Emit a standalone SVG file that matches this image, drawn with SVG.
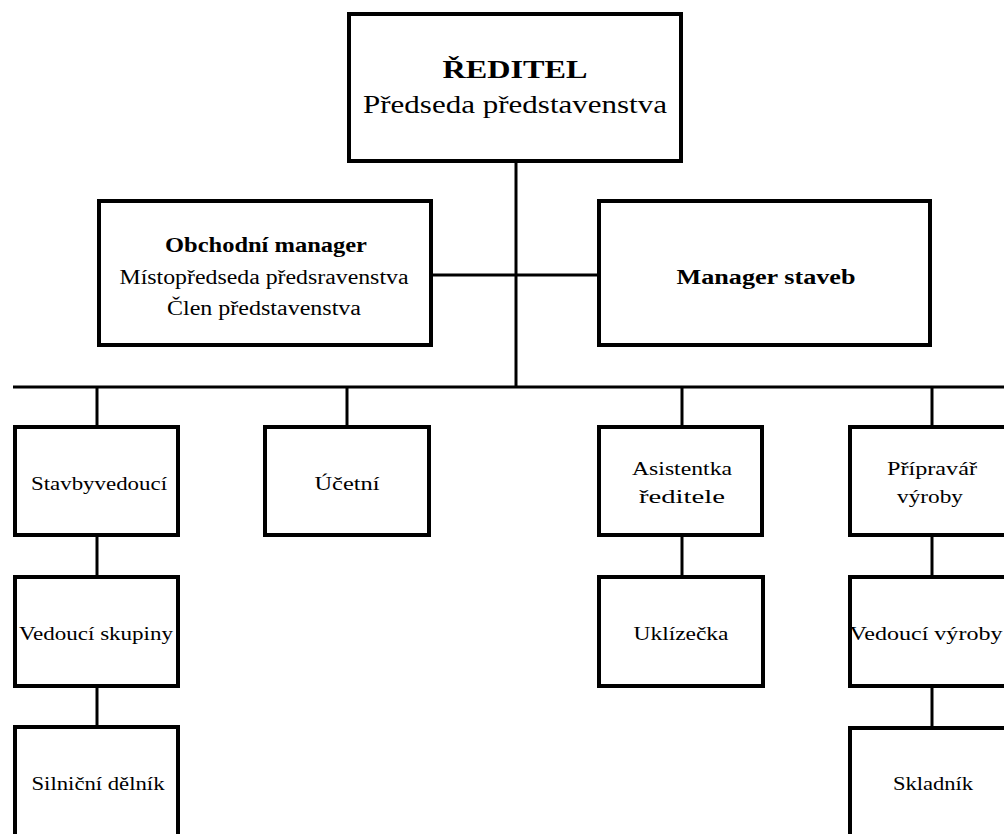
<svg xmlns="http://www.w3.org/2000/svg" width="1004" height="834" viewBox="0 0 1004 834">
<style>
.box{fill:#fff;stroke:#000;stroke-width:4}
.ln{stroke:#000;stroke-width:3;fill:none}
text{font-family:"Liberation Serif","Times New Roman",serif;fill:#000;text-anchor:middle}
.b{font-weight:bold}
.t1{font-size:26px}
.t2{font-size:20px}
.t3{font-size:19px}
</style>
<rect width="1004" height="834" fill="#fff"/>
<g id="connectors">
<line class="ln" x1="516" y1="161" x2="516" y2="387"/>
<line class="ln" x1="431" y1="275" x2="599" y2="275"/>
<line class="ln" x1="13" y1="387" x2="1004" y2="387"/>
<line class="ln" x1="97" y1="387" x2="97" y2="427"/>
<line class="ln" x1="347" y1="387" x2="347" y2="427"/>
<line class="ln" x1="682" y1="387" x2="682" y2="427"/>
<line class="ln" x1="932" y1="387" x2="932" y2="427"/>
<line class="ln" x1="97" y1="535" x2="97" y2="577"/>
<line class="ln" x1="97" y1="686" x2="97" y2="727"/>
<line class="ln" x1="682" y1="535" x2="682" y2="577"/>
<line class="ln" x1="932" y1="535" x2="932" y2="577"/>
<line class="ln" x1="932" y1="686" x2="932" y2="728"/>
</g>
<g id="reditel">
<rect class="box" x="349" y="14" width="332" height="147"/>
<text class="t1 b" x="515" y="78" textLength="145" lengthAdjust="spacingAndGlyphs">ŘEDITEL</text>
<text class="t1" x="515" y="113" textLength="304" lengthAdjust="spacingAndGlyphs">Předseda představenstva</text>
</g>
<g id="obchodni">
<rect class="box" x="99" y="201" width="332" height="144"/>
<text class="t2 b" x="266" y="252" textLength="202" lengthAdjust="spacingAndGlyphs">Obchodní manager</text>
<text class="t2" x="264" y="284" textLength="289" lengthAdjust="spacingAndGlyphs">Místopředseda předsravenstva</text>
<text class="t2" x="264" y="315" textLength="194" lengthAdjust="spacingAndGlyphs">Člen představenstva</text>
</g>
<g id="manager-staveb">
<rect class="box" x="599" y="201" width="331" height="144"/>
<text class="t2 b" x="766" y="284" textLength="179" lengthAdjust="spacingAndGlyphs">Manager staveb</text>
</g>
<g id="stavbyvedouci">
<rect class="box" x="15" y="427" width="163" height="108"/>
<text class="t3" x="99" y="490" textLength="136" lengthAdjust="spacingAndGlyphs">Stavbyvedoucí</text>
</g>
<g id="ucetni">
<rect class="box" x="265" y="427" width="164" height="108"/>
<text class="t3" x="347" y="490" textLength="65" lengthAdjust="spacingAndGlyphs">Účetní</text>
</g>
<g id="asistentka">
<rect class="box" x="599" y="427" width="163" height="108"/>
<text class="t3" x="682" y="475" textLength="100" lengthAdjust="spacingAndGlyphs">Asistentka</text>
<text class="t3" x="682" y="503" textLength="86" lengthAdjust="spacingAndGlyphs">ředitele</text>
</g>
<g id="pripravar">
<rect class="box" x="850" y="427" width="163" height="108"/>
<text class="t3" x="932" y="475" textLength="90" lengthAdjust="spacingAndGlyphs">Přípravář</text>
<text class="t3" x="930" y="503" textLength="66" lengthAdjust="spacingAndGlyphs">výroby</text>
</g>
<g id="vedouci-skupiny">
<rect class="box" x="15" y="577" width="163" height="109"/>
<text class="t3" x="96" y="640" textLength="154" lengthAdjust="spacingAndGlyphs">Vedoucí skupiny</text>
</g>
<g id="uklizecka">
<rect class="box" x="599" y="577" width="164" height="109"/>
<text class="t3" x="681" y="640" textLength="95" lengthAdjust="spacingAndGlyphs">Uklízečka</text>
</g>
<g id="vedouci-vyroby">
<rect class="box" x="850" y="577" width="163" height="109"/>
<text class="t3" x="926" y="640" textLength="153" lengthAdjust="spacingAndGlyphs">Vedoucí výroby</text>
</g>
<g id="silnicni-delnik">
<rect class="box" x="15" y="727" width="163" height="120"/>
<text class="t3" x="98" y="790" textLength="133" lengthAdjust="spacingAndGlyphs">Silniční dělník</text>
</g>
<g id="skladnik">
<rect class="box" x="850" y="728" width="163" height="120"/>
<text class="t3" x="933" y="790" textLength="80" lengthAdjust="spacingAndGlyphs">Skladník</text>
</g>
</svg>
